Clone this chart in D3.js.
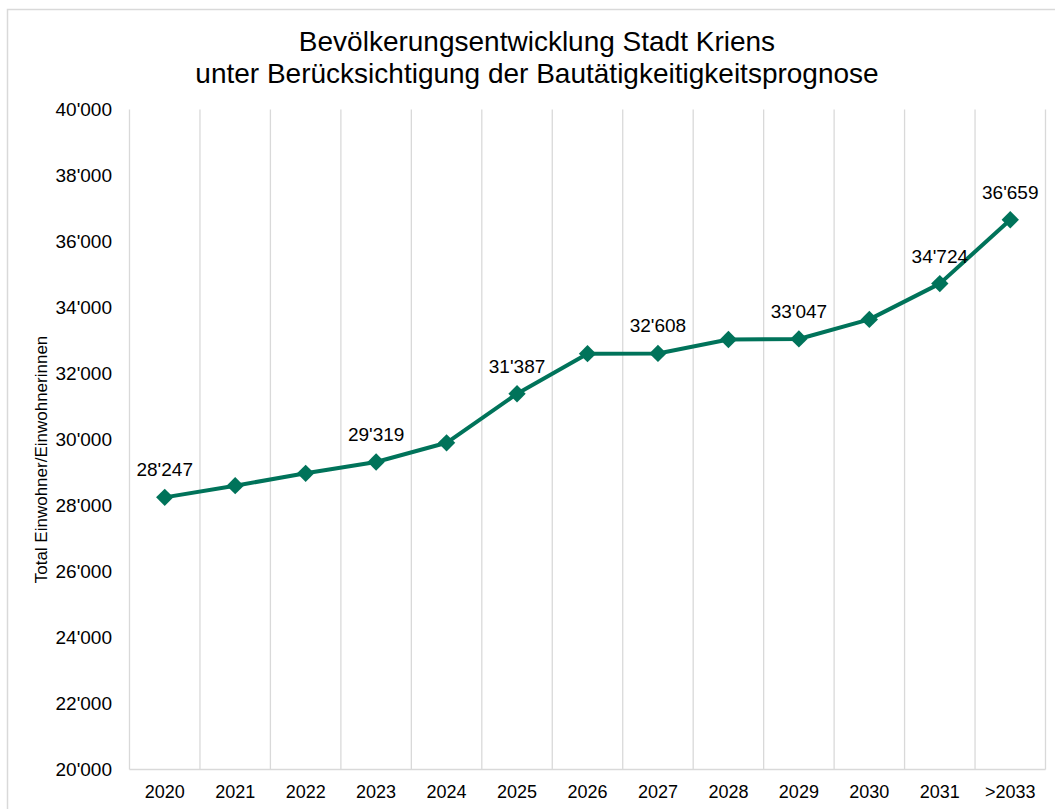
<!DOCTYPE html>
<html>
<head>
<meta charset="utf-8">
<script src="https://cdn.jsdelivr.net/npm/d3@7"></script>
<style>
  body { margin: 0; background: #fff; }
  svg text { font-family: "Liberation Sans", Arial, sans-serif; fill: #000; }
</style>
</head>
<body>
<div id="chart"></div>
<script>
const years = ["2020", "2021", "2022", "2023", "2024", "2025", "2026", "2027", "2028", "2029", "2030", "2031", ">2033"];
const population = [28247, 28600, 28975, 29319, 29900, 31387, 32600, 32608, 33030, 33047, 33640, 34724, 36659];
const labelledYears = ["2020", "2023", "2025", "2027", "2029", "2031", ">2033"];
const yTicks = [20000, 22000, 24000, 26000, 28000, 30000, 32000, 34000, 36000, 38000, 40000];
const titleLines = ["Bevölkerungsentwicklung Stadt Kriens", "unter Berücksichtigung der Bautätigkeitigkeitsprognose"];

const width = 1055, height = 809;
const margin = { top: 109.5, right: 10, bottom: 39.5, left: 129.5 };
const green = "#00735a";
const grid = "#d9d9d9";

const svg = d3.select("#chart").append("svg")
    .attr("width", width)
    .attr("height", height);

// outer chart frame (only top and left edges are inside the picture)
svg.append("path")
    .attr("d", `M7.5,${height} V9.5 H${width}`)
    .attr("fill", "none")
    .attr("stroke", grid)
    .attr("stroke-width", 1.5);

const x = d3.scaleBand()
    .domain(years)
    .range([margin.left, 1045.5]);

const y = d3.scaleLinear()
    .domain([20000, 40000])
    .range([height - margin.bottom, margin.top]);

const fmt = v => d3.format(",")(v).replace(/,/g, "'");

// vertical gridlines at category boundaries
svg.append("g")
    .selectAll("line")
    .data(years.concat(["end"]))
    .enter().append("line")
    .attr("x1", (d, i) => i < years.length ? x(d) : x.range()[1])
    .attr("x2", (d, i) => i < years.length ? x(d) : x.range()[1])
    .attr("y1", y(40000))
    .attr("y2", y(20000))
    .attr("stroke", grid)
    .attr("stroke-width", 1.3);

// bottom axis line
svg.append("line")
    .attr("x1", x.range()[0])
    .attr("x2", x.range()[1])
    .attr("y1", y(20000))
    .attr("y2", y(20000))
    .attr("stroke", grid)
    .attr("stroke-width", 1.3);

// y tick labels
svg.append("g")
    .selectAll("text")
    .data(yTicks)
    .enter().append("text")
    .attr("x", 112)
    .attr("y", d => y(d))
    .attr("dy", "0.35em")
    .attr("text-anchor", "end")
    .style("font-size", "19px")
    .text(fmt);

// x tick labels
svg.append("g")
    .selectAll("text")
    .data(years)
    .enter().append("text")
    .attr("x", d => x(d) + x.bandwidth() / 2)
    .attr("y", 798)
    .attr("text-anchor", "middle")
    .style("font-size", "18px")
    .text(d => d);

// y axis title
svg.append("text")
    .attr("transform", `translate(47, ${(y(20000) + y(40000)) / 2 + 20}) rotate(-90)`)
    .attr("text-anchor", "middle")
    .style("font-size", "17px")
    .text("Total Einwohner/Einwohnerinnen");

// title
svg.append("g")
    .selectAll("text")
    .data(titleLines)
    .enter().append("text")
    .attr("x", 537)
    .attr("y", (d, i) => 51 + i * 32)
    .attr("text-anchor", "middle")
    .style("font-size", "28px")
    .text(d => d);

const points = years.map((yr, i) => ({ year: yr, value: population[i] }));

const line = d3.line()
    .x(d => x(d.year) + x.bandwidth() / 2)
    .y(d => y(d.value));

svg.append("path")
    .datum(points)
    .attr("d", line)
    .attr("fill", "none")
    .attr("stroke", green)
    .attr("stroke-width", 4)
    .attr("stroke-linejoin", "round");

const diamond = d3.symbol().type(d3.symbolSquare).size(150);

svg.append("g")
    .selectAll("path")
    .data(points)
    .enter().append("path")
    .attr("d", diamond)
    .attr("transform", d => `translate(${x(d.year) + x.bandwidth() / 2}, ${y(d.value)}) rotate(45)`)
    .attr("fill", green);

// data labels
svg.append("g")
    .selectAll("text")
    .data(points.filter(d => labelledYears.includes(d.year)))
    .enter().append("text")
    .attr("x", d => x(d.year) + x.bandwidth() / 2)
    .attr("y", d => y(d.value) - 21)
    .attr("text-anchor", "middle")
    .style("font-size", "19px")
    .text(d => fmt(d.value));
</script>
</body>
</html>
